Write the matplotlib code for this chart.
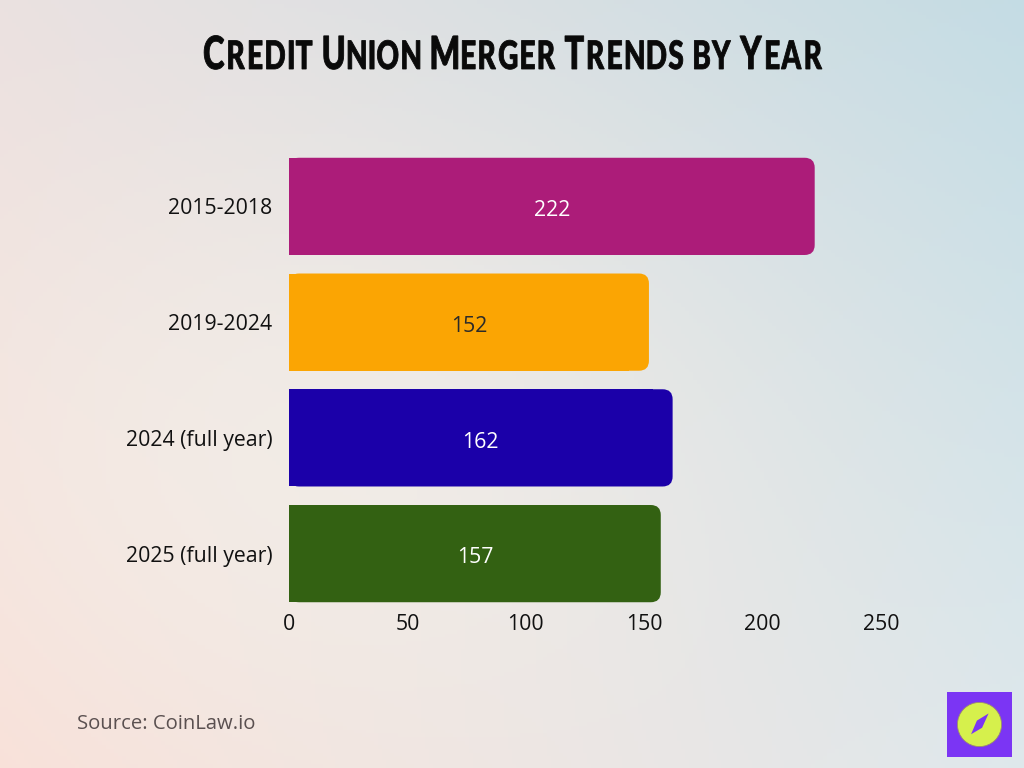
import numpy as np
import matplotlib
matplotlib.use("Agg")
import matplotlib.pyplot as plt
from matplotlib.patches import FancyBboxPatch, Rectangle, Circle, Polygon, PathPatch
from matplotlib.textpath import TextPath
from matplotlib.font_manager import FontProperties
from matplotlib.path import Path

categories = ["2015-2018", "2019-2024", "2024 (full year)", "2025 (full year)"]
values = [222, 152, 162, 157]
colors = ["#AC1C79", "#FBA503", "#1B00A9", "#336112"]
label_colors = ["white", "#2a2a2a", "white", "white"]
xticks = [0, 50, 100, 150, 200, 250]
title = "Credit Union Merger Trends by Year"
source = "Source: CoinLaw.io"

W, H = 1024, 768
FONT = "Open Sans"
FS = 15.3
fig = plt.figure(figsize=(W / 100, H / 100), dpi=100)

# background gradient
bg = fig.add_axes([0, 0, 1, 1])
yy, xx = np.mgrid[0:1:200j, 0:1:260j]  # yy=0 top
tl = np.array([234, 224, 224]) / 255
tr = np.array([196, 220, 228]) / 255
bl = np.array([249, 222, 214]) / 255
br = np.array([222, 232, 236]) / 255
img = ((1 - xx)[..., None] * (1 - yy)[..., None] * tl + xx[..., None] * (1 - yy)[..., None] * tr
       + (1 - xx)[..., None] * yy[..., None] * bl + xx[..., None] * yy[..., None] * br)
c = np.exp(-(((xx - 0.3) / 0.45) ** 2 + ((yy - 0.6) / 0.45) ** 2))
img = img * (1 - 0.6 * c[..., None]) + np.array([247, 243, 235]) / 255 * 0.6 * c[..., None]
bg.imshow(img, aspect="auto", extent=[0, 1, 0, 1], origin="upper")
bg.set_xlim(0, 1)
bg.set_ylim(0, 1)
bg.axis("off")

# main axes
left, right = 289 / W, 881 / W
top_px, bot_px = 148.5, 611.5
ax = fig.add_axes([left, 1 - bot_px / H, right - left, (bot_px - top_px) / H])
ax.patch.set_alpha(0)
y = np.arange(len(categories))
bars = ax.barh(y, values, height=0.84, color=colors)
ax.set_xlim(0, 250)
ax.set_ylim(len(categories) - 0.5, -0.5)

xu_per_px = 250 / (right - left) / W
yu_per_px = len(categories) / (bot_px - top_px)
aspect = yu_per_px / xu_per_px
rad = 10 * xu_per_px
for b, col in zip(bars, colors):
    x0, y0, w, h = b.get_x(), b.get_y(), b.get_width(), b.get_height()
    b.set_visible(False)
    ax.add_patch(FancyBboxPatch((x0, y0), w, h,
                                boxstyle="round,pad=0,rounding_size=%f" % rad,
                                mutation_aspect=aspect, fc=col, ec="none", clip_on=False))
    ax.add_patch(Rectangle((x0, y0), w - 2 * rad, h, fc=col, ec="none", clip_on=False))

for yi, v, lc in zip(y, values, label_colors):
    ax.text(v / 2, yi + 0.015, str(v), ha="center", va="center_baseline", color=lc,
            fontsize=FS, family=FONT)

ax.set_yticks(y)
ax.set_yticklabels(categories, fontsize=FS, family=FONT, color="#111111")
ax.set_xticks(xticks)
ax.set_xticklabels([str(t) for t in xticks], fontsize=FS, family=FONT, color="#111111")
ax.tick_params(length=0, pad=12, axis="y")
ax.tick_params(length=0, pad=1.5, axis="x")
for s in ax.spines.values():
    s.set_visible(False)

# title in condensed small caps, built from text paths
prop = FontProperties(family="Lato", weight="black")
big, small = 100.0, 86.0
verts, codes = [], []
xpos = 0.0
for wi, word in enumerate(title.split(" ")):
    for ci, ch in enumerate(word):
        size = big if (ci == 0 and ch.isupper()) else small
        tp = TextPath((xpos, 0), ch.upper(), size=size, prop=prop)
        verts.append(tp.vertices)
        codes.append(tp.codes)
        ext = tp.get_extents()
        xpos = ext.x1 + 0.07 * big
    xpos += 0.22 * big
allv = np.concatenate(verts)
allc = np.concatenate(codes)
x_min, x_max = allv[:, 0].min(), allv[:, 0].max()
y_min, y_max = 0.0, allv[:, 1].max()
tx0, tx1, ty_top, ty_base = 203, 822, 35.5, 69
sx = (tx1 - tx0) / (x_max - x_min)
sy = (ty_base - ty_top) / (y_max - y_min)
pv = np.empty_like(allv)
pv[:, 0] = (tx0 + (allv[:, 0] - x_min) * sx) / W
pv[:, 1] = (H - ty_base + (allv[:, 1] - y_min) * sy) / H
title_path = Path(pv, allc)
fig.patches.append(PathPatch(title_path, transform=fig.transFigure, fc="#0a0a0a",
                             ec="#0a0a0a", lw=0.6, figure=fig))

fig.text(77 / W, 1 - 724 / H, source, ha="left", va="center", fontsize=14.6,
         family=FONT, color="#5a5050")

# logo
lg = fig.add_axes([947 / W, 1 - 757 / H, 65 / W, 65 / H])
lg.set_xlim(0, 1)
lg.set_ylim(0, 1)
lg.axis("off")
lg.add_patch(Rectangle((0, 0), 1, 1, fc="#7B35F4", ec="none"))
lg.add_patch(Circle((0.5, 0.5), 0.34, fc="#D6F04C", ec="#9a8a70", lw=0.6))
lg.add_patch(Polygon([[0.37, 0.35], [0.46, 0.56], [0.64, 0.67], [0.54, 0.45]], closed=True,
                     fc="#7B35F4", ec="none"))

fig.savefig("out.png", dpi=100)
